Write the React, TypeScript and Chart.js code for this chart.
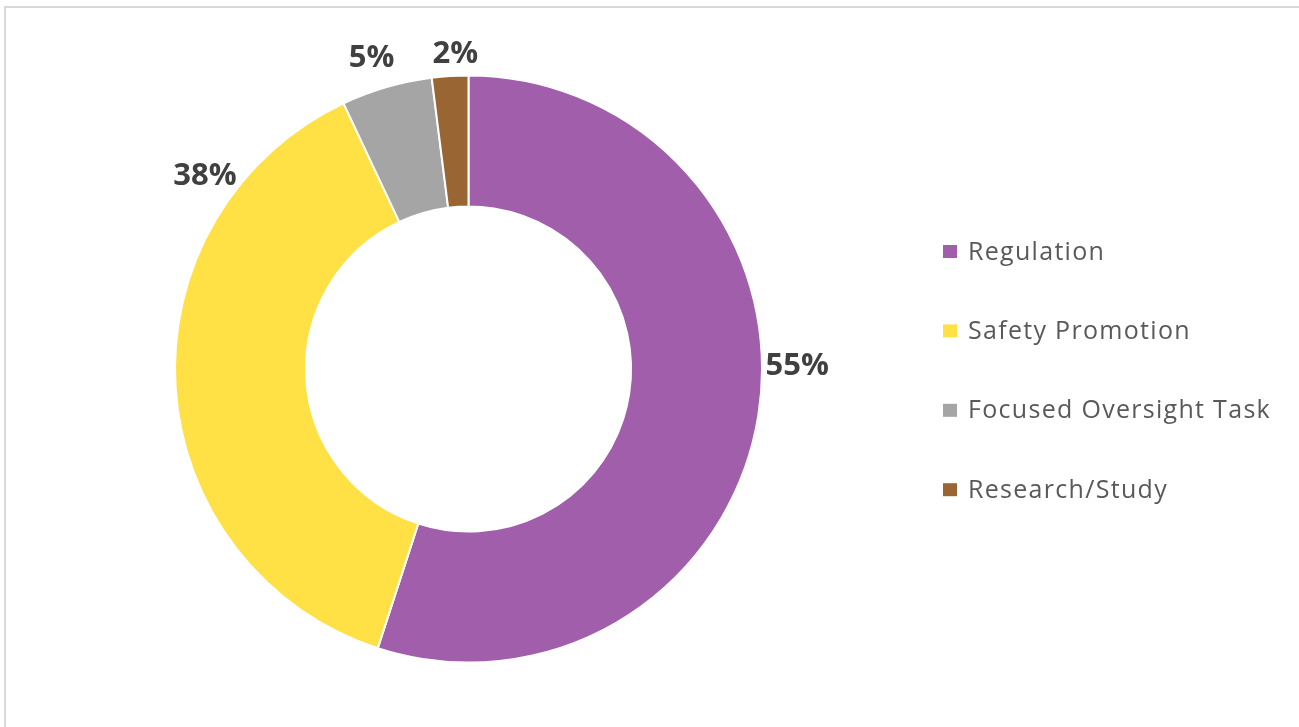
import React, { useEffect, useRef } from "react";
import { Chart, registerables } from "chart.js";

Chart.register(...registerables);

// Share of work items by category (percent)
const categories = ["Regulation", "Safety Promotion", "Focused Oversight Task", "Research/Study"];
const shares = [55, 38, 5, 2];
const sliceColors = ["#A05EAB", "#FFE045", "#A5A5A5", "#996633"];

// Where each percentage label sits: angle clockwise from 12 o'clock (deg) and distance as a multiple of the outer radius
const labelAngles = [89.5, 306.2, 342.7, 357.6];
const labelDistances = [1.12, 1.113, 1.11, 1.075];

const W = 1299;
const H = 727;

const labelPlugin = {
  id: "sliceLabels",
  afterDatasetsDraw(chart: any) {
    const meta = chart.getDatasetMeta(0);
    const arc = meta.data[0];
    if (!arc) return;
    const { x, y, outerRadius } = arc.getProps(["x", "y", "outerRadius"], true);
    const ctx = chart.ctx;
    ctx.save();
    ctx.font = "bold 31px 'Open Sans'";
    ctx.fillStyle = "#404040";
    ctx.textAlign = "center";
    ctx.textBaseline = "middle";
    const total = shares.reduce((a, b) => a + b, 0);
    shares.forEach((v, i) => {
      const a = (labelAngles[i] * Math.PI) / 180;
      const d = outerRadius * labelDistances[i];
      const tx = x + Math.sin(a) * d;
      const ty = y - Math.cos(a) * d;
      ctx.fillText(Math.round((v / total) * 100) + "%", tx, ty);
    });
    ctx.restore();
  },
};

const legendPlugin = {
  id: "sideLegend",
  afterDraw(chart: any) {
    const ctx = chart.ctx;
    ctx.save();
    ctx.font = "25px 'Open Sans'";
    (ctx as any).letterSpacing = "1.3px";
    ctx.textBaseline = "middle";
    ctx.textAlign = "left";
    const left = 943;
    const top = 251.5;
    const step = 79.4;
    categories.forEach((name, i) => {
      const cy = top + i * step;
      ctx.fillStyle = sliceColors[i];
      ctx.fillRect(left, cy - 6.5, 14, 13);
      ctx.fillStyle = "#595959";
      ctx.fillText(name, left + 25, cy + 1);
    });
    ctx.restore();
  },
};

export default function App() {
  const canvasRef = useRef<HTMLCanvasElement | null>(null);

  useEffect(() => {
    if (!canvasRef.current) return;
    const chart = new Chart(canvasRef.current, {
      type: "doughnut",
      data: {
        labels: categories,
        datasets: [
          {
            data: shares,
            backgroundColor: sliceColors,
            borderColor: "#FFFFFF",
            borderWidth: 2,
          },
        ],
      },
      options: {
        responsive: false,
        animation: false,
        devicePixelRatio: 1,
        cutout: "55.4%",
        layout: { padding: { left: 174, right: 536, top: 74, bottom: 63 } },
        plugins: {
          legend: { display: false },
          tooltip: { enabled: false },
        },
      },
      plugins: [labelPlugin, legendPlugin],
    });
    return () => chart.destroy();
  }, []);

  return (
    <div style={{ position: "fixed", left: 0, top: 0, width: W, height: H, background: "#fff", overflow: "hidden" }}>
      <div
        style={{
          position: "absolute",
          left: 4,
          top: 6,
          width: W - 4,
          height: H - 6,
          borderTop: "2px solid #D9D9D9",
          borderLeft: "2px solid #D9D9D9",
          boxSizing: "border-box",
        }}
      />
      <canvas ref={canvasRef} width={W} height={H} style={{ position: "absolute", left: 0, top: 0 }} />
    </div>
  );
}
